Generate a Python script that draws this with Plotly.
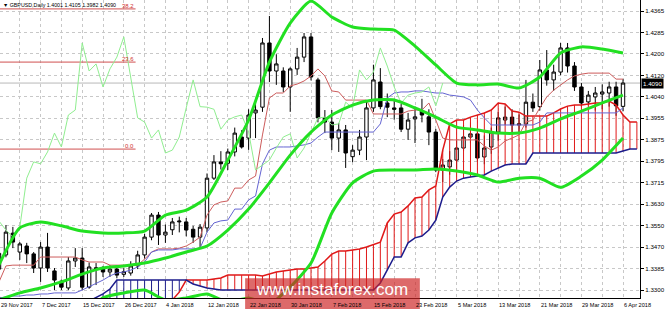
import plotly.graph_objects as go

# ---------------- data (GBPUSD daily, bar index 0 = 29 Nov 2017) ----------------
opens = [1.3380,1.3434,1.3517,1.3445,1.3468,1.3438,1.3384,1.3464,1.3373,1.3334,
         1.3308,1.3411,1.3422,1.3311,1.3385,1.3380,1.3369,1.3380,1.3360,1.3365,
         1.3392,1.3434,1.3502,1.3586,1.3510,1.3530,1.3560,1.3560,1.3532,1.3502,
         1.3537,1.3727,1.3789,1.3784,1.3827,1.3884,1.3880,1.3976,1.3998,1.4243,
         1.4136,1.4136,1.4075,1.4144,1.4189,1.4266,1.4102,1.3957,1.3941,1.3880,
         1.3911,1.3809,1.3834,1.3884,1.3995,1.4094,1.4014,1.3995,1.3995,1.3914,
         1.3953,1.3983,1.3961,1.3903,1.3758,1.3770,1.3796,1.3842,1.3884,1.3896,
         1.3808,1.3846,1.3903,1.3949,1.3960,1.3930,1.3934,1.4017,1.4000,1.4140,
         1.4102,1.4132,1.4224,1.4155,1.4075,1.4018,1.4037,1.4048,1.4052,1.4075,
         1.4001]
highs = [1.3455,1.3548,1.3541,1.3483,1.3480,1.3445,1.3483,1.3518,1.3384,1.3340,
         1.3426,1.3460,1.3460,1.3405,1.3403,1.3392,1.3395,1.3390,1.3385,1.3410,
         1.3450,1.3515,1.3594,1.3598,1.3550,1.3575,1.3580,1.3575,1.3545,1.3552,
         1.3745,1.3815,1.3830,1.3840,1.3920,1.3910,1.3990,1.4018,1.4262,1.4346,
         1.4200,1.4150,1.4150,1.4224,1.4281,1.4281,1.4110,1.3987,1.3987,1.3938,
         1.3930,1.3853,1.3911,1.4018,1.4160,1.4147,1.4050,1.4030,1.4010,1.3976,
         1.4000,1.4030,1.3990,1.3915,1.3800,1.3830,1.3870,1.3930,1.3940,1.3910,
         1.3890,1.3920,1.3980,1.4000,1.3990,1.3970,1.4102,1.4050,1.4178,1.4216,
         1.4160,1.4243,1.4243,1.4170,1.4090,1.4060,1.4075,1.4085,1.4095,1.4095,
         1.4105]
lows = [1.3350,1.3425,1.3460,1.3415,1.3403,1.3365,1.3331,1.3369,1.3300,1.3300,
        1.3300,1.3388,1.3300,1.3305,1.3319,1.3350,1.3350,1.3345,1.3350,1.3355,
        1.3380,1.3420,1.3490,1.3472,1.3480,1.3510,1.3520,1.3505,1.3480,1.3464,
        1.3520,1.3720,1.3760,1.3758,1.3810,1.3840,1.3835,1.3880,1.3980,1.4094,
        1.4083,1.4056,1.3980,1.4121,1.4170,1.4100,1.3940,1.3899,1.3834,1.3827,
        1.3766,1.3788,1.3815,1.3796,1.3980,1.3990,1.3960,1.3950,1.3903,1.3873,
        1.3861,1.3940,1.3853,1.3750,1.3712,1.3740,1.3760,1.3830,1.3860,1.3790,
        1.3780,1.3820,1.3870,1.3930,1.3900,1.3900,1.3920,1.3980,1.3985,1.4080,
        1.4060,1.4120,1.4130,1.4060,1.4000,1.4005,1.3985,1.3990,1.4000,1.3965,
        1.3982]
closes = [1.3440,1.3521,1.3483,1.3476,1.3438,1.3384,1.3464,1.3384,1.3338,1.3311,
          1.3411,1.3422,1.3311,1.3388,1.3380,1.3369,1.3380,1.3357,1.3370,1.3392,
          1.3434,1.3502,1.3586,1.3510,1.3521,1.3560,1.3563,1.3529,1.3502,1.3540,
          1.3727,1.3789,1.3782,1.3827,1.3899,1.3846,1.3968,1.3987,1.4243,1.4136,
          1.4163,1.4075,1.4144,1.4189,1.4266,1.4113,1.3957,1.3941,1.3880,1.3911,
          1.3823,1.3834,1.3884,1.3995,1.4102,1.4000,1.3998,1.3990,1.3914,1.3949,
          1.3961,1.3968,1.3903,1.3758,1.3777,1.3796,1.3842,1.3884,1.3896,1.3804,
          1.3842,1.3903,1.3957,1.3960,1.3930,1.3934,1.4017,1.3995,1.4140,1.4102,
          1.4132,1.4224,1.4155,1.4075,1.4014,1.4044,1.4052,1.4056,1.4075,1.4003,
          1.4090]

# Ichimoku lines (per bar)
tenkan = [1.3331,1.3392,1.3395,1.3395,1.3395,1.3395,1.3426,1.3426,1.3426,1.3426,
          1.3426,1.3426,1.3415,1.3407,1.3407,1.3407,1.3395,1.3395,1.3395,1.3395,
          1.3395,1.3418,1.3445,1.3457,1.3457,1.3457,1.3460,1.3468,1.3483,1.3502,
          1.3586,1.3625,1.3636,1.3640,1.3689,1.3689,1.3720,1.3735,1.3892,1.4033,
          1.4052,1.4052,1.4079,1.4086,1.4098,1.4117,1.4144,1.4117,1.4060,1.4056,
          1.4025,1.4025,1.4025,1.4025,1.3972,1.3972,1.3972,1.3972,1.3972,1.3983,
          1.3987,1.3987,1.4014,1.3949,1.3880,1.3873,1.3873,1.3873,1.3873,1.3873,
          1.3850,1.3834,1.3846,1.3869,1.3880,1.3892,1.3941,1.3949,1.3995,1.4037,
          1.4063,1.4083,1.4102,1.4117,1.4124,1.4128,1.4128,1.4128,1.4128,1.4105,
          1.4105]
kijun = [1.3270,1.3273,1.3277,1.3277,1.3281,1.3281,1.3285,1.3285,1.3289,1.3289,
         1.3289,1.3289,1.3300,1.3312,1.3327,1.3338,1.3354,1.3365,1.3369,1.3376,
         1.3388,1.3407,1.3445,1.3453,1.3453,1.3453,1.3457,1.3457,1.3457,1.3460,
         1.3521,1.3556,1.3564,1.3567,1.3609,1.3609,1.3644,1.3659,1.3781,1.3834,
         1.3846,1.3846,1.3846,1.3850,1.3854,1.3861,1.3884,1.3903,1.3903,1.3903,
         1.3903,1.3903,1.3903,1.3903,1.3903,1.3934,1.4033,1.4052,1.4056,1.4056,
         1.4060,1.4060,1.4056,1.4052,1.4052,1.4044,1.4041,1.4037,1.4025,1.3987,
         1.3957,1.3930,1.3930,1.3930,1.3930,1.3930,1.3930,1.3930,1.3941,1.3976,
         1.3976,1.3976,1.3976,1.3976,1.3976,1.3976,1.3976,1.3976,1.3976,1.3976,
         1.3995]
# Senkou spans (bars 0..92, already shifted forward)
span_a = [1.3273,1.3254,1.3239,1.3231,1.3224,1.3216,1.3216,1.3216,1.3216,1.3224,
          1.3224,1.3231,1.3239,1.3243,1.3243,1.3247,1.3247,1.3250,1.3250,1.3254,
          1.3254,1.3254,1.3258,1.3258,1.3262,1.3262,1.3292,1.3338,1.3338,1.3338,
          1.3338,1.3342,1.3346,1.3357,1.3357,1.3357,1.3357,1.3357,1.3354,1.3361,
          1.3369,1.3373,1.3376,1.3380,1.3380,1.3384,1.3388,1.3411,1.3437,1.3449,
          1.3449,1.3453,1.3457,1.3464,1.3472,1.3483,1.3556,1.3590,1.3598,1.3621,
          1.3651,1.3655,1.3682,1.3697,1.3834,1.3934,1.3949,1.3949,1.3960,1.3968,
          1.3976,1.3987,1.4014,1.4010,1.3983,1.3979,1.3964,1.3964,1.3964,1.3964,
          1.3976,1.3991,1.4002,1.4006,1.4006,1.4010,1.4014,1.4014,1.4021,1.4006,
          1.3968,1.3941,1.3941]
span_b = [1.3216,1.3216,1.3216,1.3216,1.3216,1.3216,1.3216,1.3216,1.3216,1.3216,
          1.3216,1.3216,1.3216,1.3258,1.3270,1.3285,1.3304,1.3338,1.3338,1.3338,
          1.3338,1.3338,1.3338,1.3338,1.3338,1.3338,1.3338,1.3338,1.3323,1.3315,
          1.3308,1.3304,1.3300,1.3300,1.3300,1.3300,1.3300,1.3300,1.3300,1.3300,
          1.3300,1.3300,1.3300,1.3300,1.3300,1.3300,1.3300,1.3300,1.3300,1.3300,
          1.3300,1.3300,1.3300,1.3300,1.3300,1.3327,1.3376,1.3426,1.3426,1.3480,
          1.3499,1.3506,1.3529,1.3567,1.3655,1.3693,1.3716,1.3727,1.3731,1.3735,
          1.3739,1.3754,1.3766,1.3777,1.3781,1.3781,1.3781,1.3823,1.3823,1.3823,
          1.3823,1.3823,1.3823,1.3823,1.3823,1.3823,1.3823,1.3823,1.3823,1.3823,
          1.3831,1.3838,1.3838]

# Bollinger bands sampled every 3 bars (bars 0,3,...,90)
bb_bars = list(range(0, 91, 3))
bb_upper = [1.3396,1.3537,1.3560,1.3545,1.3525,1.3518,1.3518,1.3525,1.3586,1.3605,
            1.3655,1.3796,1.3949,1.4170,1.4319,1.4403,1.4342,1.4304,1.4296,1.4292,
            1.4231,1.4159,1.4090,1.4083,1.4086,1.4071,1.4113,1.4205,1.4228,1.4220,1.4205]
bb_mid = [1.3262,1.3289,1.3308,1.3331,1.3361,1.3384,1.3392,1.3403,1.3422,1.3445,
          1.3468,1.3529,1.3609,1.3709,1.3815,1.3903,1.3968,1.4006,1.4025,1.4025,
          1.3995,1.3960,1.3922,1.3911,1.3899,1.3899,1.3918,1.3953,1.3983,1.4014,1.4044]
bb_lower = [1.3128,1.3040,1.3056,1.3117,1.3197,1.3270,1.3289,1.3300,1.3262,1.3270,
            1.3285,1.3254,1.3270,1.3247,1.3312,1.3403,1.3594,1.3709,1.3754,1.3758,
            1.3758,1.3762,1.3754,1.3739,1.3712,1.3727,1.3727,1.3692,1.3735,1.3796,1.3880]

CHIKOU_SHIFT = 26

# Fibonacci levels
fib_levels = [1.4373, 1.4170, 1.3838]
fib_labels = ["38.2", "23.6", "0.0"]
fib_end_bar = 19.7

# axis labels
date_labels = ["29 Nov 2017", "7 Dec 2017", "15 Dec 2017", "26 Dec 2017", "4 Jan 2018",
               "12 Jan 2018", "22 Jan 2018", "30 Jan 2018", "7 Feb 2018", "15 Feb 2018",
               "23 Feb 2018", "5 Mar 2018", "13 Mar 2018", "21 Mar 2018", "29 Mar 2018",
               "6 Apr 2018"]
date_label_bars = list(range(0, 91, 6))
grid_bars = list(range(0, 93, 3))
price_tick_text = ["1.4365", "1.4285", "1.4200", "1.4120", "1.4040", "1.3955", "1.3875",
                   "1.3795", "1.3715", "1.3630", "1.3550", "1.3470", "1.3385", "1.3300"]
price_tick_vals = [1.43650, 1.42831, 1.42012, 1.41192, 1.40373, 1.39554, 1.38735,
                   1.37915, 1.37096, 1.36277, 1.35458, 1.34638, 1.33819, 1.33000]

title_text = "\u25bc GBPUSD,Daily 1.4001 1.4105 1.3982 1.4090"
last_price = 1.4090
last_price_text = "1.4090"

FONT = "Liberation Sans, Arial, sans-serif"
X_MIN, X_MAX = 0.144, 92.45
bars = list(range(len(closes)))

fig = go.Figure()

# cloud hatching
hx_r, hy_r, hx_b, hy_b = [], [], [], []
for i, (a, b) in enumerate(zip(span_a, span_b)):
    if a >= b:
        hx_r += [i, i, None]; hy_r += [a, b, None]
    else:
        hx_b += [i, i, None]; hy_b += [a, b, None]
fig.add_trace(go.Scatter(x=hx_r, y=hy_r, mode="lines", line=dict(color="#e01818", width=1),
                         hoverinfo="skip"))
fig.add_trace(go.Scatter(x=hx_b, y=hy_b, mode="lines", line=dict(color="#1c1c8c", width=1),
                         hoverinfo="skip"))
span_x = list(range(len(span_a)))
fig.add_trace(go.Scatter(x=span_x, y=span_a, mode="lines", line=dict(color="#e01818", width=1.5)))
fig.add_trace(go.Scatter(x=span_x, y=span_b, mode="lines", line=dict(color="#1c1c8c", width=1.5)))

# Fibonacci lines
for lv in fib_levels:
    fig.add_trace(go.Scatter(x=[-3, fib_end_bar], y=[lv, lv], mode="lines",
                             line=dict(color="#d05050", width=1)))

# candles
fig.add_trace(go.Candlestick(
    x=bars, open=opens, high=highs, low=lows, close=closes,
    increasing=dict(line=dict(color="#000000", width=1), fillcolor="#ffffff"),
    decreasing=dict(line=dict(color="#000000", width=1), fillcolor="#000000"),
    whiskerwidth=0))

# tenkan / kijun / chikou
fig.add_trace(go.Scatter(x=bars, y=tenkan, mode="lines", line=dict(color="#cd5c5c", width=1)))
fig.add_trace(go.Scatter(x=bars, y=kijun, mode="lines", line=dict(color="#6464d2", width=1)))
fig.add_trace(go.Scatter(x=[i - CHIKOU_SHIFT for i in bars[CHIKOU_SHIFT:]], y=closes[CHIKOU_SHIFT:],
                         mode="lines", line=dict(color="#90ee90", width=1)))

# Bollinger bands
for band in (bb_upper, bb_mid, bb_lower):
    fig.add_trace(go.Scatter(x=bb_bars, y=band, mode="lines",
                             line=dict(color="#22e022", width=3, shape="spline", smoothing=0.6)))

annotations = []
for lab, b in zip(date_labels, date_label_bars):
    annotations.append(dict(x=max(b, X_MIN + 0.05), y=0, xref="x", yref="paper", text=lab,
                            showarrow=False, xanchor="left", yanchor="top", yshift=-2, xshift=-1,
                            font=dict(family=FONT, size=5.6, color="#000000")))
for lv, lab in zip(fib_levels, fib_labels):
    annotations.append(dict(x=fib_end_bar, y=lv, xref="x", yref="y", text=lab, showarrow=False,
                            xanchor="right", yanchor="bottom", yshift=-2,
                            font=dict(family=FONT, size=6, color="#d03030")))
annotations.append(dict(x=0, y=1, xref="paper", yref="paper", text=title_text, showarrow=False,
                        xanchor="left", yanchor="top", xshift=1, yshift=0,
                        font=dict(family=FONT, size=5.3, color="#000000")))
annotations.append(dict(x=1, y=last_price, xref="paper", yref="y", text=last_price_text,
                        showarrow=False, xanchor="left", yanchor="middle", xshift=1,
                        bgcolor="#000000", borderpad=1,
                        font=dict(family=FONT, size=6.2, color="#ffffff")))
annotations.append(dict(x=0.519, y=0.027, xref="paper", yref="paper", text="www.instaforex.com",
                        showarrow=False, xanchor="center", yanchor="middle",
                        font=dict(family=FONT, size=17, color="#ffffff")))

shapes = [
    dict(type="line", xref="paper", yref="y", x0=0, x1=1, y0=last_price, y1=last_price,
         line=dict(color="#b8b8b8", width=1), layer="below"),
    dict(type="rect", xref="paper", yref="paper", x0=0.383, x1=0.656, y0=-0.037, y1=0.066,
         fillcolor="rgba(205,35,35,0.68)", line=dict(width=0), layer="above"),
]

fig.update_layout(
    width=665, height=311,
    margin=dict(l=0, r=25, t=0, b=13),
    paper_bgcolor="#ffffff", plot_bgcolor="#ffffff",
    showlegend=False,
    annotations=annotations, shapes=shapes,
    xaxis=dict(range=[X_MIN, X_MAX], tickvals=grid_bars, showticklabels=False,
               showgrid=True, gridcolor="#c8c8c8", griddash="dot", gridwidth=1,
               showline=True, linecolor="#000000", linewidth=1, zeroline=False,
               rangeslider=dict(visible=False), ticks=""),
    yaxis=dict(range=[1.32696, 1.44070], side="right", tickvals=price_tick_vals,
               ticktext=price_tick_text, showgrid=True, gridcolor="#c8c8c8", griddash="dot",
               gridwidth=1, showline=True, linecolor="#000000", linewidth=1, zeroline=False,
               ticks="outside", ticklen=3, tickcolor="#000000",
               tickfont=dict(family=FONT, size=6.2, color="#000000")),
)

fig.write_html("out.html")
